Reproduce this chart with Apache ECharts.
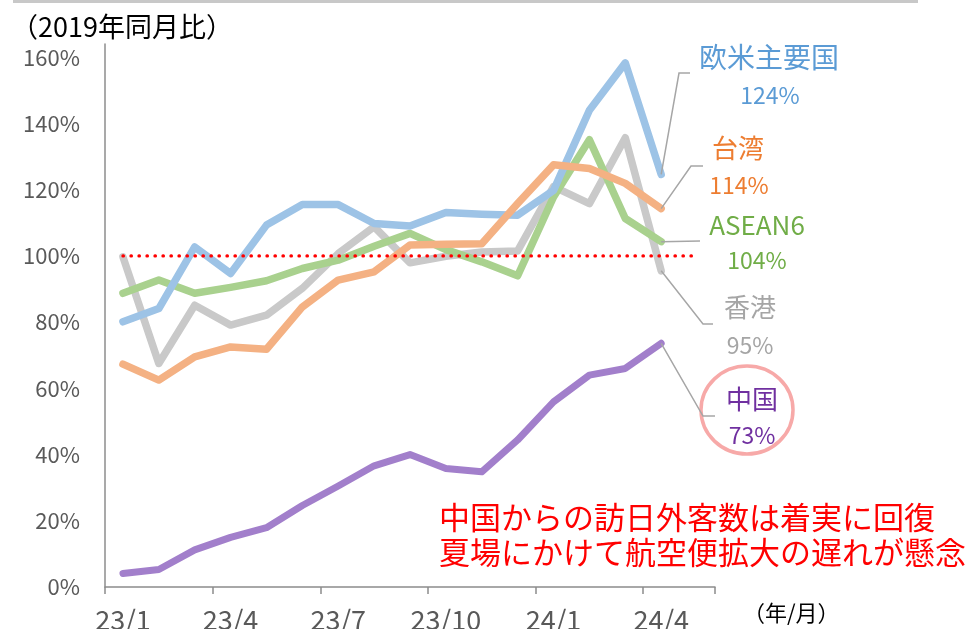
<!DOCTYPE html>
<html>
<head>
<meta charset="utf-8">
<script src="https://cdn.jsdelivr.net/npm/echarts/dist/echarts.min.js"></script>
<style>
  html, body { margin: 0; padding: 0; background: #fff; }
  #chart { width: 975px; height: 629px; }
</style>
</head>
<body>
<div id="chart"></div>
<script>
// 月 (last category is empty, gives room at the right end)
var months = ['23/1', '23/2', '23/3', '23/4', '23/5', '23/6', '23/7', '23/8', '23/9',
              '23/10', '23/11', '23/12', '24/1', '24/2', '24/3', '24/4', '24/5']

// 2019年同月比 (%)
var westData     = [80.1, 84.1, 102.7, 94.7, 109.3, 115.5, 115.5, 109.8, 109.0, 113.1, 112.6, 112.3, 119.8, 144.0, 158.3, 124.6]
var taiwanData   = [67.3, 62.5, 69.5, 72.5, 71.8, 84.6, 92.7, 95.2, 103.3, 103.5, 103.7, 115.8, 127.5, 126.4, 121.9, 114.3]
var aseanData    = [88.7, 92.7, 88.7, 90.5, 92.5, 96.2, 98.7, 102.9, 106.8, 101.9, 98.2, 94.0, 117.8, 135.1, 111.3, 104.3]
var hongkongData = [99.7, 67.5, 85.1, 79.1, 82.1, 90.2, 100.7, 108.8, 97.9, 99.9, 101.2, 101.5, 120.9, 115.8, 135.7, 95.5]
var chinaData    = [4.1, 5.3, 11.2, 15.0, 17.9, 24.6, 30.5, 36.6, 40.0, 35.8, 34.8, 44.4, 55.9, 64.0, 66.0, 73.6]
var baseLine     = [100, 100, 100, 100, 100, 100, 100, 100, 100, 100, 100, 100, 100, 100, 100, 100, 100]

var seriesNames = ['欧米主要国', '台湾', 'ASEAN6', '香港', '中国']
var endLabels   = ['124%', '114%', '104%', '95%', '73%']

var FONT = "'Noto Sans CJK JP', 'Noto Sans', sans-serif"

var myChart = echarts.init(document.getElementById('chart'))

function lineSeries(name, data, color, width) {
    return {
        name: name,
        type: 'line',
        data: data,
        showSymbol: false,
        symbol: 'none',
        lineStyle: { color: color, width: width, cap: 'round', join: 'round' },
        z: 2
    }
}

myChart.setOption({
    animation: false,
    textStyle: { fontFamily: FONT },
    grid: { left: 105, right: 260, top: 44, bottom: 42, containLabel: false, outerBoundsMode: 'none' },
    xAxis: {
        type: 'category',
        data: months,
        boundaryGap: true,
        axisLine: { lineStyle: { color: '#8c8c8c', width: 1.5 } },
        axisTick: { show: true, interval: 2, length: 7, lineStyle: { color: '#8c8c8c', width: 1.5 } },
        axisLabel: { interval: 2, color: '#595959', fontSize: 27, margin: 19, fontFamily: FONT }
    },
    yAxis: {
        type: 'value',
        min: 0,
        max: 164,
        interval: 20,
        splitLine: { show: false },
        axisTick: { show: false },
        axisLine: { show: true, lineStyle: { color: '#8c8c8c', width: 1.5 } },
        axisLabel: {
            showMaxLabel: false,
            color: '#595959',
            fontSize: 22,
            margin: 25,
            fontFamily: FONT,
            formatter: '{value}%'
        }
    },
    series: [
        lineSeries('中国', chinaData, '#a27fcb', 7),
        lineSeries('香港', hongkongData, '#c9c9c9', 7.5),
        lineSeries('ASEAN6', aseanData, '#a9d18e', 7.5),
        lineSeries('欧米主要国', westData, '#9dc3e6', 7.5),
        lineSeries('台湾', taiwanData, '#f4b183', 7.5),
        {
            name: '100%',
            type: 'line',
            data: baseLine,
            showSymbol: false,
            symbol: 'none',
            lineStyle: { color: '#ff0000', width: 3.2, type: [0.5, 7.5], cap: 'round' },
            z: 3
        }
    ]
})

// 右側のラベルと引き出し線
var last = chinaData.length - 1
function endPoint(data) {
    return myChart.convertToPixel({ xAxisIndex: 0, yAxisIndex: 0 }, [last, data[last]])
}

var labelInfo = [
    { data: westData,     color: '#5b9bd5', elbow: [[679, 73], [690, 73]],   name: [769, 57],  value: [770, 95] },
    { data: taiwanData,   color: '#ed7d31', elbow: [[691, 166], [703, 166]], name: [738, 148], value: [739, 185] },
    { data: aseanData,    color: '#70ad47', elbow: [[700, 241]],             name: [757, 225], value: [757, 260] },
    { data: hongkongData, color: '#a5a5a5', elbow: [[703, 324], [713, 324]], name: [750, 307], value: [750, 345] },
    { data: chinaData,    color: '#7030a0', elbow: [[703, 416], [715, 416]], name: [752, 399], value: [752, 435] }
]

var graphics = []

// 上部の灰色の帯
graphics.push({
    type: 'rect',
    shape: { x: 13, y: 0, width: 905, height: 3 },
    style: { fill: '#c8c8c8' },
    silent: true
})

labelInfo.forEach(function (info, i) {
    var p = endPoint(info.data)
    graphics.push({
        type: 'polyline',
        shape: { points: [p].concat(info.elbow) },
        style: { stroke: '#a6a6a6', lineWidth: 1.5, fill: null },
        z: 10
    })
    graphics.push({
        type: 'text',
        x: info.name[0], y: info.name[1],
        style: {
            text: seriesNames[i], fill: info.color,
            font: (i === 0 ? 28 : 26) + 'px ' + FONT, align: 'center', verticalAlign: 'middle'
        },
        z: 10
    })
    graphics.push({
        type: 'text',
        x: info.value[0], y: info.value[1],
        style: {
            text: endLabels[i], fill: info.color,
            font: '23px ' + FONT, align: 'center', verticalAlign: 'middle'
        },
        z: 10
    })
})

// 中国を囲む円
graphics.push({
    type: 'ellipse',
    shape: { cx: 747, cy: 410, rx: 46, ry: 44 },
    style: { stroke: '#f7a9a8', lineWidth: 3.5, fill: null },
    z: 9
})

// 単位
graphics.push({
    type: 'text', x: 11, y: 27,
    style: { text: '（2019年同月比）', fill: '#000', font: '27px ' + FONT, verticalAlign: 'middle' }
})
graphics.push({
    type: 'text', x: 743, y: 613,
    style: { text: '（年/月）', fill: '#000', font: '22px ' + FONT, verticalAlign: 'middle' }
})

// コメント
graphics.push({
    type: 'text', x: 439, y: 517,
    style: { text: '中国からの訪日外客数は着実に回復', fill: '#ff0000', font: '31px ' + FONT, verticalAlign: 'middle' }
})
graphics.push({
    type: 'text', x: 439, y: 552,
    style: { text: '夏場にかけて航空便拡大の遅れが懸念', fill: '#ff0000', font: '31px ' + FONT, verticalAlign: 'middle' }
})

myChart.setOption({ graphic: graphics })
</script>
</body>
</html>
